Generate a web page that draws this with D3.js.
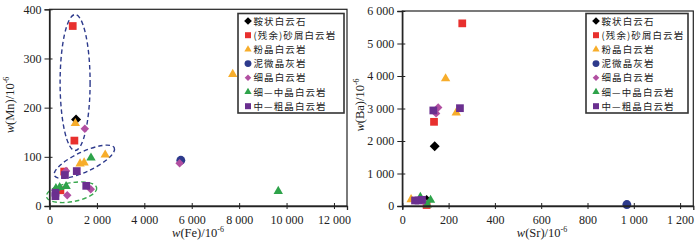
<!DOCTYPE html>
<html>
<head>
<meta charset="utf-8">
<script src="https://cdn.jsdelivr.net/npm/d3@7"></script>
<style>
  body { margin: 0; background: #fff; }
  svg { display: block; }
  .tick text { font-family: "Liberation Serif", serif; font-size: 12px; fill: #222; }
  .ttl { font-family: "Liberation Serif", serif; font-size: 12.5px; fill: #222; }
  .leg { font-family: "Noto Sans CJK SC", sans-serif; font-size: 9.5px; letter-spacing: 1.1px; fill: #222; }
</style>
</head>
<body>
<div id="chart"></div>
<script>
// legend categories
var categories = ["鞍状白云石", "(残余)砂屑白云岩", "粉晶白云岩", "泥微晶灰岩", "细晶白云岩", "细—中晶白云岩", "中—粗晶白云岩"];

// left panel: [Fe, Mn]
var feMn_saddle = [[1120, 176]];
var feMn_residual = [[980, 366], [1050, 133], [620, 70], [460, 32]];
var feMn_powder = [[1090, 168], [7730, 268], [2350, 104], [1290, 86], [1460, 88]];
var feMn_micrite = [[5540, 93]];
var feMn_fine = [[1490, 157], [5490, 87], [700, 71], [750, 22], [1740, 34]];
var feMn_fineMed = [[1750, 98], [9650, 30], [270, 36], [430, 38], [700, 40]];
var feMn_medCoarse = [[650, 63], [1150, 71], [1550, 41], [250, 27], [250, 20]];

// right panel: [Sr, Ba]
var srBa_saddle = [[140, 1840], [105, 185]];
var srBa_residual = [[259, 5620], [137, 2590], [105, 30]];
var srBa_powder = [[187, 3920], [233, 2870], [38, 200]];
var srBa_micrite = [[970, 45]];
var srBa_fine = [[155, 3030], [146, 2850], [100, 90]];
var srBa_fineMed = [[78, 270], [122, 180], [108, 40]];
var srBa_medCoarse = [[134, 2940], [249, 3010], [55, 170], [70, 170], [85, 190]];

var feTicks = [0, 2000, 4000, 6000, 8000, 10000, 12000];
var mnTicks = [0, 100, 200, 300, 400];
var srTicks = [0, 200, 400, 600, 800, 1000, 1200];
var baTicks = [0, 1000, 2000, 3000, 4000, 5000, 6000];

// styles per category (diamonds are squares turned 45 degrees)
var colors = ["#000000", "#e8302e", "#f7ad2b", "#2d3a8c", "#b14fa1", "#2ea34a", "#6a2f8f"];
var shapes = [d3.symbolSquare, d3.symbolSquare, d3.symbolTriangle, d3.symbolCircle, d3.symbolSquare, d3.symbolTriangle, d3.symbolSquare];
var turns = [45, 0, 0, 0, 45, 0, 0];
var sizes = [50, 60, 38, 62, 36, 38, 60];

var fmt = d3.formatLocale({ decimal: ".", thousands: " ", grouping: [3], currency: ["", ""] }).format(",");

var svg = d3.select("#chart").append("svg")
    .attr("width", 700)
    .attr("height", 244);

function panel(opt) {
    var x = d3.scaleLinear().domain(opt.xDomain).range([opt.left, opt.right]);
    var y = d3.scaleLinear().domain(opt.yDomain).range([206, opt.top]);

    var g = svg.append("g");

    // annotation ellipses (behind points)
    (opt.ellipses || []).forEach(function (e) {
        g.append("ellipse")
            .attr("cx", 0).attr("cy", 0)
            .attr("rx", e.rx).attr("ry", e.ry)
            .attr("transform", "translate(" + x(e.cx) + "," + y(e.cy) + ") rotate(" + e.rot + ")")
            .attr("fill", "none")
            .attr("stroke", e.color)
            .attr("stroke-width", 1.4)
            .attr("stroke-dasharray", "4.5,3");
    });

    // points
    opt.series.forEach(function (pts, i) {
        g.selectAll(null)
            .data(pts)
            .enter().append("path")
            .attr("d", d3.symbol().type(shapes[i]).size(sizes[i]))
            .attr("transform", function (d) { return "translate(" + x(d[0]) + "," + y(d[1]) + ") rotate(" + turns[i] + ")"; })
            .attr("fill", colors[i]);
    });

    // frame
    g.append("rect")
        .attr("x", opt.left).attr("y", opt.top)
        .attr("width", opt.right - opt.left).attr("height", 206 - opt.top)
        .attr("fill", "none").attr("stroke", "#222").attr("stroke-width", 1.2);

    // axes
    var xa = g.append("g")
        .attr("transform", "translate(0,206)")
        .call(d3.axisBottom(x).tickValues(opt.xTicks).tickFormat(fmt).tickSize(4).tickPadding(5));
    xa.selectAll(".tick line").attr("y1", -3).attr("y2", 3).attr("stroke", "#222");
    xa.select(".domain").attr("stroke", "#222").attr("stroke-width", 1.3);

    var ya = g.append("g")
        .attr("transform", "translate(" + opt.left + ",0)")
        .call(d3.axisLeft(y).tickValues(opt.yTicks).tickFormat(fmt).tickSize(5).tickPadding(3));
    ya.selectAll(".tick line").attr("x1", -5).attr("x2", 3).attr("stroke", "#222");
    ya.select(".domain").attr("stroke", "#222").attr("stroke-width", 1.3);

    // axis titles
    var xt = svg.append("text").attr("class", "ttl")
        .attr("x", opt.xTitleX).attr("y", 237).attr("text-anchor", "middle");
    xt.append("tspan").attr("font-style", "italic").text("w");
    xt.append("tspan").text("(" + opt.xName + ")/10");
    xt.append("tspan").attr("font-size", "8px").attr("dy", -5).text("-6");

    var yt = svg.append("text").attr("class", "ttl")
        .attr("transform", "translate(" + opt.yTitleX + ",105) rotate(-90)")
        .attr("text-anchor", "middle");
    yt.append("tspan").attr("font-style", "italic").text("w");
    yt.append("tspan").text("(" + opt.yName + ")/10");
    yt.append("tspan").attr("font-size", "8px").attr("dy", -5).text("-6");

    // legend
    var lg = svg.append("g").attr("transform", "translate(" + opt.legX + ",13.5)");
    lg.append("rect")
        .attr("width", opt.legW).attr("height", 99.5)
        .attr("fill", "#fff").attr("stroke", "#333").attr("stroke-width", 1.6);
    categories.forEach(function (c, i) {
        var row = lg.append("g").attr("transform", "translate(0," + (7.5 + i * 14.2) + ")");
        row.append("path")
            .attr("d", d3.symbol().type(shapes[i]).size(sizes[i] * 0.6))
            .attr("transform", "translate(10,0) rotate(" + turns[i] + ")")
            .attr("fill", colors[i]);
        row.append("text").attr("class", "leg")
            .attr("x", 15.5).attr("y", 3.5).text(c);
    });
}

panel({
    left: 49.5, right: 347, top: 9.3,
    xDomain: [0, 12550], yDomain: [0, 400],
    xTicks: feTicks, yTicks: mnTicks,
    xName: "Fe", yName: "Mn", xTitleX: 198, yTitleX: 14,
    legX: 238, legW: 106,
    series: [feMn_saddle, feMn_residual, feMn_powder, feMn_micrite, feMn_fine, feMn_fineMed, feMn_medCoarse],
    ellipses: [
        { cx: 1080, cy: 251, rx: 15, ry: 68, rot: 0, color: "#2d3a8c" },
        { cx: 1470, cy: 90, rx: 33, ry: 10, rot: -25, color: "#2d3a8c" },
        { cx: 930, cy: 28, rx: 25.5, ry: 9.5, rot: -10, color: "#3aa84f" }
    ]
});

panel({
    left: 402.3, right: 693.3, top: 11,
    xDomain: [0, 1257], yDomain: [0, 6000],
    xTicks: srTicks, yTicks: baTicks,
    xName: "Sr", yName: "Ba", xTitleX: 542, yTitleX: 364,
    legX: 586, legW: 102,
    series: [srBa_saddle, srBa_residual, srBa_powder, srBa_micrite, srBa_fine, srBa_fineMed, srBa_medCoarse]
});
</script>
</body>
</html>
